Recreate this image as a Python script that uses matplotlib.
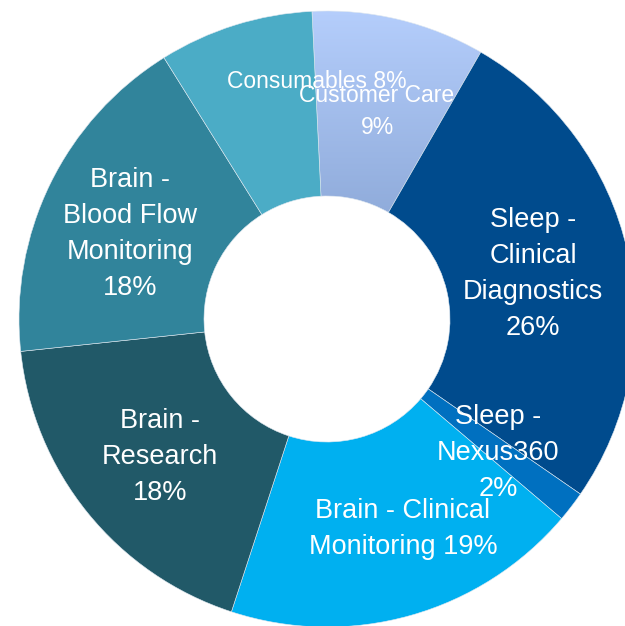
import numpy as np
import matplotlib
matplotlib.use('Agg')
from matplotlib import pyplot as plt
from matplotlib.colors import LinearSegmentedColormap

# slice data, clockwise from the top
labels = ['Customer Care\n9%', 'Sleep -\nClinical\nDiagnostics\n26%', 'Sleep -\nNexus360\n2%',
          'Brain - Clinical\nMonitoring 19%', 'Brain -\nResearch\n18%',
          'Brain -\nBlood Flow\nMonitoring\n18%', 'Consumables 8%']
shares = [9.1, 26.3, 1.6, 18.8, 18.3, 17.8, 8.1]
colors = ['#a2bcec', '#004b8d', '#0070c0', '#00b0f0', '#215968', '#31849b', '#4bacc6']

# label placement (pixel offsets from the centre, y up) and font sizes
label_pos = [(50, 208), (206, 45), (171, -134), (76, -210), (-167, -138), (-197, 85), (-10, 237)]
label_size = [16.5, 19.5, 19.5, 19.5, 19.5, 19.5, 16.5]

W, H = 625, 626
cx, cy = 327, H - 319
R, r_in = 308, 123

fig = plt.figure(figsize=(W / 100, H / 100), dpi=100)
ax = fig.add_axes([0, 0, 1, 1])

wedges, _ = ax.pie(shares, colors=colors, startangle=92.8, counterclock=False,
                   center=(cx, cy), radius=R, frame=True,
                   wedgeprops=dict(width=R - r_in, edgecolor='#dfe8f0', linewidth=0.4))
ax.set_xlim(0, W)
ax.set_ylim(0, H)
ax.set_aspect('equal')
ax.axis('off')

# gradient fill for the Customer Care slice
cc = wedges[0]
cc.set_facecolor('none')
grad_cmap = LinearSegmentedColormap.from_list('cc', ['#8eaad9', '#b5cefc'])
grad = np.linspace(0, 1, 200).reshape(-1, 1)
im = ax.imshow(grad, cmap=grad_cmap, origin='lower', aspect='auto',
               extent=(295, 495, H - 225, H - 8), zorder=0.9)
im.set_clip_path(cc)

for txt, (dx, dy), fs in zip(labels, label_pos, label_size):
    ax.text(cx + dx, cy + dy, txt, ha='center', va='center', color='white',
            fontsize=fs, family='Liberation Sans', linespacing=1.5, zorder=5)

fig.savefig('out.png', dpi=100)
